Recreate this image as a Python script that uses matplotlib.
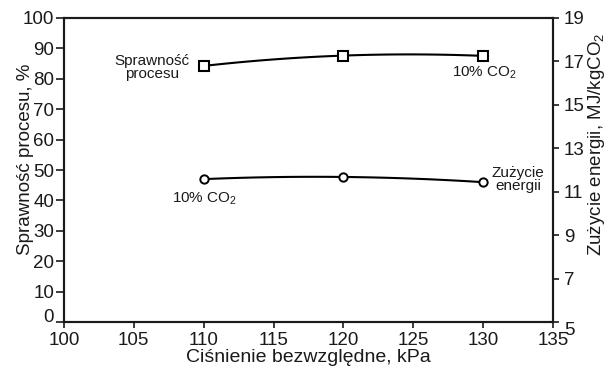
import numpy as np
import matplotlib.pyplot as plt

plt.rcParams['font.family'] = ['Liberation Sans', 'DejaVu Sans']
plt.rcParams['mathtext.default'] = 'regular'

pressure = [110, 120, 130]
efficiency = [84.2, 87.6, 87.5]          # %, left axis
energy = [11.58, 11.68, 11.44]           # MJ/kgCO2, right axis

x_ticks = [100, 105, 110, 115, 120, 125, 130, 135]
left_ticks = [0, 10, 20, 30, 40, 50, 60, 70, 80, 90, 100]
right_ticks = [5, 7, 9, 11, 13, 15, 17, 19]


def smooth(x, y):
    # quadratic through the three points, drawn as a smooth curve
    c = np.polyfit(x, y, 2)
    xs = np.linspace(min(x), max(x), 100)
    return xs, np.polyval(c, xs)


fig = plt.figure(figsize=(6.09, 3.72), dpi=100)
ax = fig.add_axes([0.105, 0.134, 0.803, 0.818])
ax2 = ax.twinx()

xs, ys = smooth(pressure, efficiency)
ax.plot(xs, ys, color='black', lw=1.5)
ax.plot(pressure, efficiency, ls='none', marker='s', ms=6.5, mfc='white',
        mec='black', mew=1.5)

xs, ys = smooth(pressure, energy)
ax2.plot(xs, ys, color='black', lw=1.5)
ax2.plot(pressure, energy, ls='none', marker='o', ms=6, mfc='white',
         mec='black', mew=1.4)

ax.set_xlim(100, 135)
ax.set_ylim(0, 100)
ax2.set_ylim(5, 19)
ax.set_xticks(x_ticks)
ax.set_yticks(left_ticks)
ax2.set_yticks(right_ticks)

ink = '#1a1a1a'
for a in (ax, ax2):
    a.tick_params(direction='out', width=1.2, labelsize=13.5, colors=ink)
    for s in a.spines.values():
        s.set_linewidth(1.5)
        s.set_color(ink)
ax.tick_params(axis='x', length=4.5, pad=2.5)
ax.tick_params(axis='y', length=5.5, pad=1.5)
ax2.tick_params(axis='y', length=4.5, pad=3.5)

# end labels pushed off the corner, as in the original
ax.get_yticklabels()[0].set_verticalalignment('baseline')
ax2.get_yticklabels()[0].set_verticalalignment('top')

ax.set_xlabel('Ciśnienie bezwzględne, kPa', fontsize=14, labelpad=0,
              color=ink)
ax.set_ylabel('Sprawność procesu, %', fontsize=13.5, color=ink)
ax2.set_ylabel('Zużycie energii, MJ/kgCO$_2$', fontsize=13.5, color=ink)
ax.yaxis.set_label_coords(-0.062, 0.536)
ax2.yaxis.set_label_coords(1.067, 0.584)

note = dict(fontsize=11, color=ink, linespacing=0.95,
            multialignment='center', textcoords='offset points')
ax.annotate('Sprawność\nprocesu', (pressure[0], efficiency[0]),
            xytext=(-10, -1), ha='right', va='center', **note)
ax.annotate('10% CO$_2$', (pressure[2], efficiency[2]),
            xytext=(1, -6), ha='center', va='top', **note)
ax2.annotate('10% CO$_2$', (pressure[0], energy[0]),
             xytext=(1, -8), ha='center', va='top', **note)
ax2.annotate('Zużycie\nenergii', (pressure[2], energy[2]),
             xytext=(6, 2), ha='left', va='center', **note)

fig.savefig('out.png', dpi=100)
